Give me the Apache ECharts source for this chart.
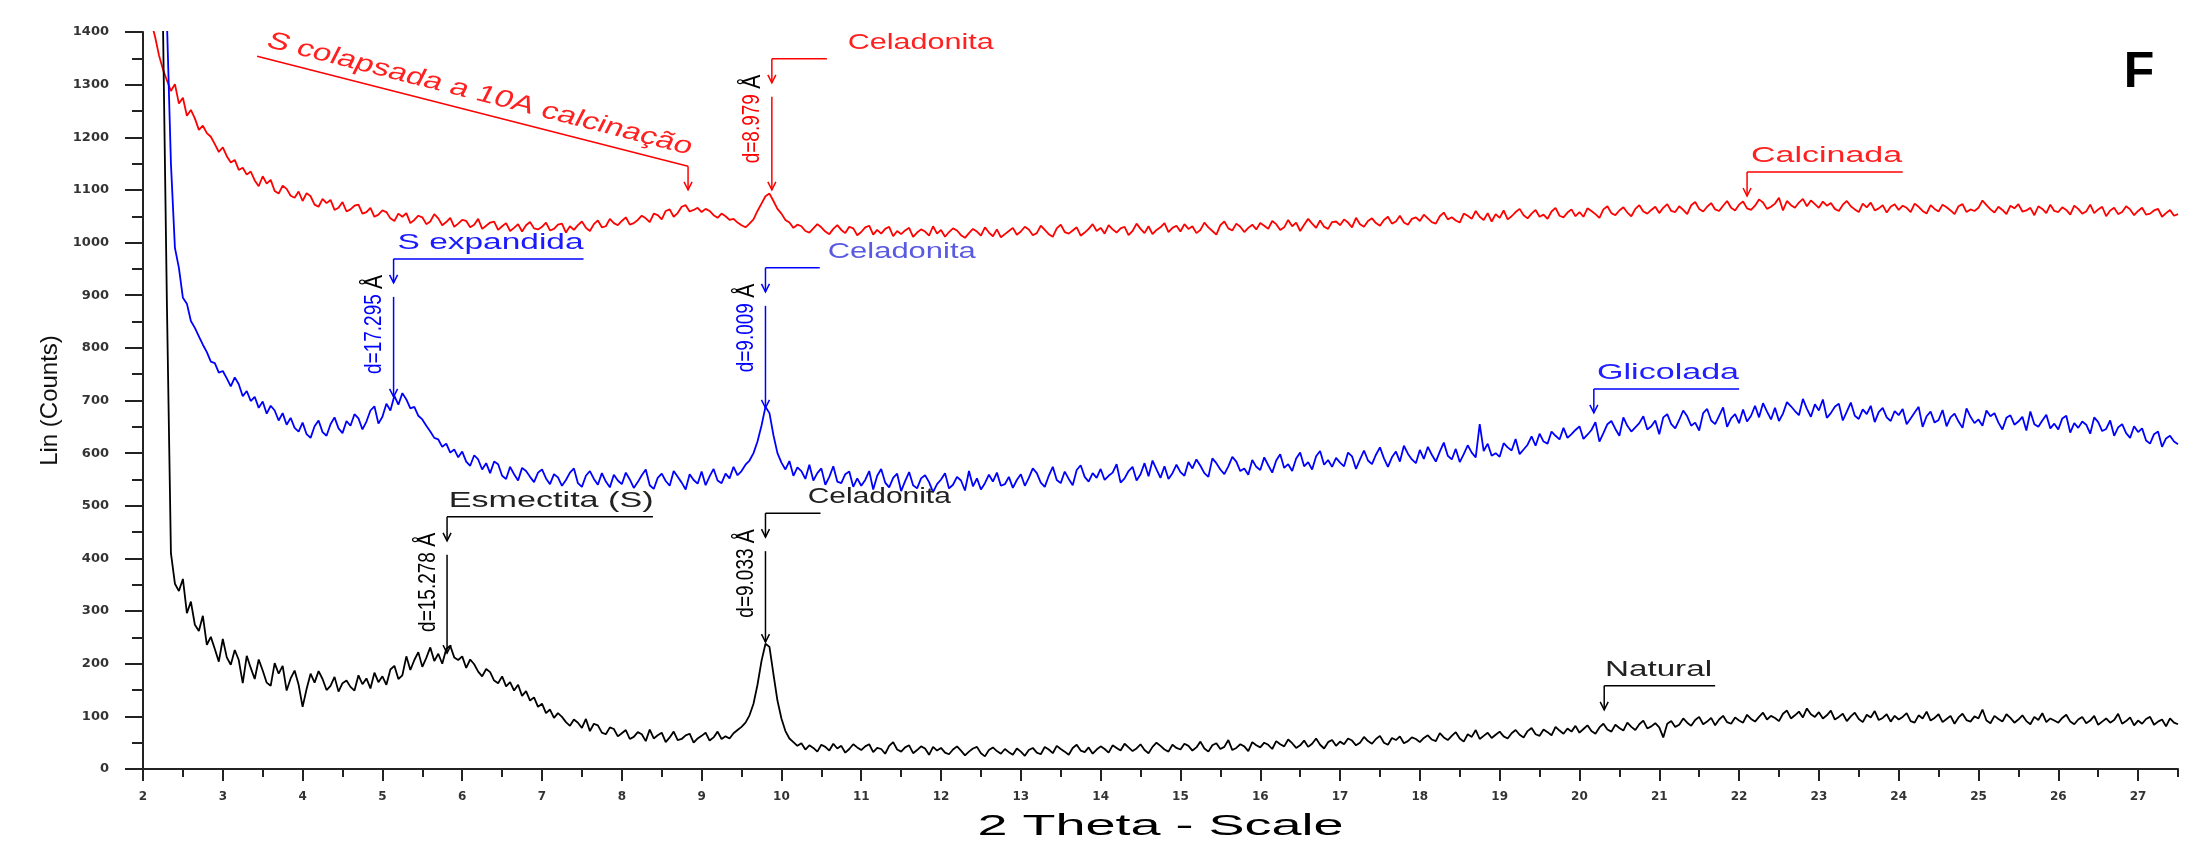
<!DOCTYPE html>
<html>
<head>
<meta charset="utf-8">
<script src="https://cdn.jsdelivr.net/npm/echarts@6/dist/echarts.min.js"></script>
<style>
html, body { margin: 0; padding: 0; background: #fff; }
#main { width: 2206px; height: 844px; }
</style>
</head>
<body>
<div id="main"></div>
<script>
// scan grid: first 2-theta angle and step (degrees)
var thetaStart = 2.0;
var thetaStep = 0.05;

// one row per degree (20 points)
var natural = [
    5000, 4200, 3200, 2400, 1850, 1420, 880, 410, 352, 338, 361, 296, 318, 274, 262, 291, 236, 251, 228, 204,
    247, 212, 198, 226, 207, 163, 215, 192, 171, 208, 187, 164, 158, 201, 181, 196, 149, 172, 187, 160,
    118, 152, 181, 164, 186, 171, 150, 158, 175, 147, 163, 168, 156, 149, 178, 161, 172, 153, 183, 165,
    176, 160, 189, 196, 171, 178, 214, 188, 207, 222, 194, 211, 231, 205, 219, 200, 228, 234, 212, 207,
    214, 192, 208, 199, 185, 176, 190, 184, 168, 163, 176, 157, 165, 149, 160, 139, 148, 130, 136, 118,
    124, 106, 113, 97, 106, 99, 89, 82, 94, 88, 78, 95, 72, 86, 83, 69, 66, 79, 76, 62,
    68, 74, 57, 61, 70, 66, 53, 75, 58, 64, 69, 51, 60, 71, 55, 57, 64, 67, 50, 58,
    63, 69, 54, 60, 71, 57, 62, 58, 68, 74, 80, 88, 102, 124, 160, 205, 238, 232, 180, 130,
    96, 72, 58, 51, 44, 49, 37, 45, 40, 33, 46, 42, 35, 48, 39, 44, 31, 38, 47, 41,
    36, 43, 47, 32, 40, 38, 29, 44, 51, 37, 33, 41, 45, 30, 36, 43, 39, 27, 42, 35,
    40, 31, 28, 37, 43, 35, 26, 33, 39, 42, 30, 24, 36, 41, 34, 29, 38, 32, 27, 39,
    33, 25, 36, 40, 31, 28, 42, 37, 30, 44, 38, 33, 27, 40, 46, 35, 32, 41, 29, 37,
    43, 38, 31, 45, 40, 35, 48, 41, 34, 39, 47, 36, 30, 42, 50, 44, 37, 33, 46, 40,
    37, 48, 44, 35, 41, 52, 39, 33, 45, 49, 38, 42, 55, 36, 40, 47, 43, 34, 51, 45,
    41, 50, 46, 38, 53, 47, 43, 56, 49, 40, 45, 54, 42, 48, 58, 46, 39, 51, 55, 44,
    52, 47, 58, 54, 45, 50, 61, 53, 48, 57, 63, 50, 46, 59, 55, 62, 49, 53, 60, 57,
    51, 59, 64, 56, 53, 68, 60, 55, 63, 70, 58, 52, 66, 61, 74, 57, 63, 69, 59, 65,
    71, 62, 58, 68, 74, 65, 60, 72, 78, 66, 63, 75, 70, 64, 80, 73, 67, 77, 71, 82,
    69, 76, 83, 72, 67, 79, 86, 75, 71, 84, 78, 73, 88, 80, 74, 85, 92, 77, 81, 87,
    79, 60, 86, 91, 80, 84, 96, 88, 82, 93, 99, 85, 90, 97, 83, 94, 101, 89, 86, 98,
    92, 88, 103, 95, 90, 99, 107, 94, 101, 97, 91, 105, 111, 96, 102, 109, 98, 115, 104, 99,
    108, 96, 102, 111, 94, 99, 105, 91, 100, 107, 95, 89, 103, 98, 110, 93, 97, 104, 90, 101,
    94, 99, 106, 91, 88, 102, 96, 109, 92, 97, 104, 89, 95, 101, 86, 98, 105, 93, 90, 100,
    96, 113, 92, 87, 101, 95, 90, 104, 97, 88, 94, 102, 91, 85, 99, 93, 106, 89, 96, 92,
    88, 97, 103, 90, 85, 94, 99, 87, 92, 101, 84, 90, 96, 88, 93, 105, 86, 91, 98, 83,
    92, 86, 95, 99, 84, 90, 94, 81, 96, 88, 85
];

var glicolada = [
    6000, 5000, 4000, 3000, 2400, 1850, 1420, 1150, 990, 952, 895, 884, 851, 838, 822, 806, 792, 774, 771, 753,
    756, 742, 727, 744, 731, 708, 718, 699, 707, 686, 698, 675, 690, 681, 662, 676, 654, 667, 648, 641,
    658, 636, 629, 651, 662, 640, 633, 655, 668, 647, 638, 661, 652, 674, 666, 645, 660, 681, 689, 656,
    669, 694, 681, 709, 692, 714, 702, 685, 688, 671, 664, 652, 641, 629, 626, 612, 618, 601, 607, 592,
    603, 584, 576, 596, 588, 569, 581, 562, 584, 579, 557, 551, 574, 560, 548, 572, 566, 555, 545, 563,
    569, 552, 541, 560, 554, 538, 549, 563, 571, 543, 536, 557, 566, 551, 540, 562, 546, 535, 559, 548,
    541, 563, 550, 534, 545, 558, 569, 539, 532, 553, 561, 547, 538, 566, 555, 544, 531, 560, 549, 542,
    565, 539, 556, 570, 548, 543, 561, 552, 574, 558, 566, 578, 586, 600, 622, 652, 688, 676, 634, 600,
    582, 569, 585, 557, 573, 566, 551, 578, 548, 562, 571, 540, 555, 575, 546, 543, 560, 565, 536, 552,
    538, 549, 566, 531, 557, 570, 544, 535, 553, 561, 528, 547, 564, 539, 533, 552, 558, 545, 526, 541,
    550, 562, 533, 540, 555, 548, 529, 566, 537, 552, 531, 543, 559, 546, 563, 538, 541, 555, 534, 549,
    560, 538, 553, 571, 562, 544, 536, 557, 574, 549, 543, 565, 551, 539, 568, 577, 555, 546, 562, 553,
    570, 549, 557, 563, 579, 544, 552, 566, 574, 548, 560, 581, 556, 586, 569, 553, 575, 551, 562, 578,
    564, 557, 583, 571, 588, 576, 562, 555, 590, 581, 569, 560, 575, 593, 584, 566, 571, 559, 587, 574,
    568, 592, 577, 563, 586, 598, 572, 579, 566, 590, 601, 575, 583, 569, 594, 604, 578, 587, 574, 591,
    582, 575, 601, 594, 570, 588, 605, 586, 579, 597, 611, 590, 574, 592, 603, 584, 614, 599, 588, 581,
    606, 589, 612, 597, 584, 603, 620, 595, 588, 608, 583, 598, 615, 601, 592, 655, 604, 618, 595, 600,
    593, 619, 611, 605, 627, 598, 607, 616, 632, 614, 637, 622, 618, 641, 633, 626, 648, 629, 636, 644,
    651, 627, 635, 644, 659, 622, 638, 655, 661, 646, 633, 668, 652, 641, 649, 657, 670, 645, 651, 662,
    636, 668, 674, 655, 647, 663, 681, 670, 652, 658, 643, 676, 684, 662, 655, 671, 687, 650, 666, 674,
    657, 683, 660, 671, 690, 668, 695, 679, 664, 686, 661, 675, 697, 689, 680, 672, 703, 684, 669, 693,
    681, 702, 667, 676, 688, 694, 662, 679, 696, 671, 665, 683, 674, 690, 659, 678, 686, 668, 661, 680,
    672, 684, 655, 666, 677, 688, 650, 670, 679, 658, 663, 682, 651, 668, 675, 660, 648, 685, 669, 657,
    664, 652, 681, 670, 676, 658, 645, 667, 672, 654, 660, 669, 643, 679, 655, 650, 662, 673, 647, 656,
    645, 666, 671, 639, 657, 648, 660, 654, 637, 668, 659, 642, 646, 662, 633, 649, 655, 638, 629, 651,
    640, 647, 624, 618, 636, 641, 612, 628, 633, 622, 617
];

var calcinada = [
    1560, 1480, 1420, 1392, 1356, 1329, 1308, 1288, 1301, 1264, 1275, 1241, 1252, 1236, 1214, 1222, 1208, 1201, 1187, 1172,
    1181, 1164, 1152, 1157, 1138, 1142, 1129, 1135, 1118, 1107, 1126, 1112, 1119, 1098, 1093, 1108, 1102, 1089, 1085, 1097,
    1079, 1094, 1088, 1072, 1068, 1083, 1075, 1081, 1062, 1066, 1077, 1059, 1063, 1070, 1072, 1055, 1058, 1066, 1049, 1053,
    1061, 1058, 1046, 1041, 1055, 1049, 1056, 1037, 1043, 1051, 1048, 1035, 1040, 1054, 1046, 1033, 1039, 1047, 1030, 1036,
    1043, 1041, 1029, 1034, 1045, 1026, 1032, 1038, 1040, 1024, 1031, 1037, 1022, 1028, 1035, 1021, 1033, 1039, 1027, 1025,
    1030, 1038, 1023, 1026, 1034, 1036, 1019, 1031, 1024, 1033, 1040, 1028, 1022, 1035, 1042, 1029, 1031, 1045, 1037, 1033,
    1041, 1048, 1034, 1037, 1043, 1051, 1046, 1039, 1055, 1052, 1044, 1060, 1063, 1049, 1056, 1068, 1071, 1059, 1062, 1066,
    1058, 1064, 1060, 1052, 1047, 1055, 1050, 1043, 1045, 1038, 1033, 1029, 1036, 1044, 1060, 1074, 1088, 1093, 1079, 1064,
    1055, 1043, 1038, 1028, 1034, 1031, 1022, 1019, 1027, 1035, 1029, 1021, 1016, 1026, 1033, 1024, 1018, 1030, 1027, 1014,
    1020, 1029, 1032, 1015, 1024, 1017, 1026, 1030, 1012, 1022, 1016, 1023, 1028, 1011, 1019, 1025, 1021, 1013, 1031, 1017,
    1024, 1011, 1020, 1027, 1023, 1014, 1009, 1018, 1026, 1021, 1013, 1029, 1019, 1012, 1025, 1010, 1016, 1022, 1028, 1015,
    1021, 1030, 1025, 1014, 1018, 1032, 1024, 1016, 1011, 1027, 1034, 1020, 1017, 1023, 1029, 1013, 1019, 1026, 1035, 1022,
    1028, 1017, 1033, 1025, 1019, 1027, 1030, 1014, 1022, 1036, 1026, 1018, 1031, 1016, 1024, 1029, 1037, 1020, 1028, 1032,
    1021, 1035, 1026, 1031, 1018, 1024, 1038, 1029, 1022, 1015, 1033, 1040, 1027, 1023, 1036, 1030, 1020, 1028, 1034, 1025,
    1037, 1032, 1026, 1041, 1035, 1024, 1029, 1043, 1031, 1038, 1022, 1034, 1045, 1036, 1028, 1042, 1030, 1026, 1039, 1040,
    1033, 1044, 1038, 1029, 1047, 1035, 1030, 1041, 1046, 1037, 1032, 1043, 1049, 1036, 1040, 1051, 1038, 1034, 1045, 1048,
    1041, 1053, 1046, 1039, 1036, 1050, 1057, 1044, 1048, 1042, 1038, 1055, 1051, 1045, 1060, 1049, 1043, 1056, 1040, 1054,
    1047, 1061, 1044, 1050, 1058, 1064, 1052, 1046, 1055, 1062, 1049, 1053, 1045, 1059, 1066, 1051, 1048, 1057, 1063, 1050,
    1058, 1049, 1065, 1060, 1054, 1047, 1063, 1069, 1056, 1052, 1061, 1067, 1057, 1050, 1064, 1071, 1059, 1055, 1062, 1068,
    1056, 1066, 1073, 1060, 1058, 1069, 1062, 1054, 1071, 1077, 1064, 1059, 1068, 1075, 1063, 1060, 1070, 1079, 1066, 1061,
    1072, 1078, 1065, 1062, 1070, 1082, 1076, 1064, 1068, 1074, 1085, 1061, 1079, 1071, 1066, 1076, 1083, 1069, 1080, 1073,
    1066, 1078, 1070, 1075, 1064, 1060, 1072, 1079, 1069, 1063, 1058, 1074, 1067, 1076, 1061, 1065, 1071, 1057, 1068, 1073,
    1062, 1070, 1066, 1058, 1074, 1068, 1060, 1055, 1071, 1064, 1059, 1072, 1067, 1061, 1054, 1069, 1073, 1058, 1063, 1060,
    1066, 1080, 1071, 1063, 1057, 1068, 1062, 1054, 1070, 1065, 1073, 1059, 1061, 1066, 1052, 1069, 1064, 1056, 1072, 1060,
    1058, 1067, 1062, 1053, 1070, 1064, 1055, 1059, 1072, 1056, 1063, 1068, 1050, 1061, 1066, 1054, 1058, 1069, 1063, 1052,
    1060, 1066, 1053, 1055, 1061, 1064, 1049, 1056, 1062, 1051, 1054
];

// peak annotations: arrow x (2theta), bracket level, bracket end, label start, arrow tip (counts)
var notes = [
    {x: 9.88, bar: 1349, xEnd: 10.57, textX: 10.83, text: 'Celadonita', w: 146, tip: 1100, d: 'd=8.979', color: '#ff0000', textColor: '#ff2020'},
    {x: 22.10, bar: 1134, xEnd: 24.05, textX: 22.15, text: 'Calcinada', w: 151, color: '#ff0000', textColor: '#ff2020'},
    {x: 5.14, bar: 969, xEnd: 7.52, textX: 5.19, text: 'S expandida', w: 186, tip: 707, d: 'd=17.295', color: '#0000ff', textColor: '#1a1aff'},
    {x: 9.80, bar: 952, xEnd: 10.48, textX: 10.58, text: 'Celadonita', w: 148, tip: 686, d: 'd=9.009', color: '#0000ff', textColor: '#5a5ae0'},
    {x: 20.18, bar: 722, xEnd: 22.0, textX: 20.22, text: 'Glicolada', w: 142, color: '#0000ff', textColor: '#2020ff'},
    {x: 5.81, bar: 479, xEnd: 8.39, textX: 5.83, text: 'Esmectita (S)', w: 205, tip: 220, d: 'd=15.278', color: '#000000', textColor: '#222222'},
    {x: 9.80, bar: 486, xEnd: 10.49, textX: 10.33, text: 'Celadonita', w: 143, tip: 241, d: 'd=9.033', color: '#000000', textColor: '#222222'},
    {x: 20.31, bar: 158, xEnd: 21.70, textX: 20.32, text: 'Natural', w: 107, color: '#000000', textColor: '#222222'}
];
// slanted note on the calcined scan: line start, line end, arrow tip
var collapseNote = {x0: 3.43, y0: 1354, x1: 8.83, y1: 1145, tip: 1100, text: 'S colapsada a 10A calcinação'};

function toPairs(vals) {
    return vals.map(function (v, i) {
        return [+(thetaStart + i * thetaStep).toFixed(2), v];
    });
}

var fontName = '"Liberation Sans", Arial, sans-serif';
var axisColor = '#222';

var myChart = echarts.init(document.getElementById('main'));

var option = {
    animation: false,
    backgroundColor: '#fff',
    grid: {left: 143, right: 28, top: 32, bottom: 75},
    xAxis: [{
        type: 'value',
        min: 2,
        max: 27.5,
        interval: 1,
        axisLine: {lineStyle: {color: axisColor, width: 2}},
        axisTick: {length: 12, lineStyle: {color: axisColor, width: 2}},
        axisLabel: {
            margin: 22, fontSize: 12, fontWeight: 'bold', color: '#333',
            fontFamily: '"DejaVu Sans", sans-serif', showMaxLabel: false
        },
        splitLine: {show: false}
    }, {
        // half-degree ticks
        type: 'value',
        position: 'bottom',
        min: 2,
        max: 27.5,
        interval: 0.5,
        axisLine: {show: false},
        axisTick: {length: 8, lineStyle: {color: axisColor, width: 2}},
        axisLabel: {show: false},
        splitLine: {show: false}
    }],
    yAxis: {
        type: 'value',
        min: 0,
        max: 1400,
        interval: 100,
        name: 'Lin (Counts)',
        nameLocation: 'middle',
        nameGap: 71,
        nameTextStyle: {fontSize: 24, color: '#111', fontFamily: fontName},
        axisLine: {show: true, lineStyle: {color: axisColor, width: 2}},
        axisTick: {show: true, length: 18, lineStyle: {color: axisColor, width: 2}},
        minorTick: {show: true, splitNumber: 2, length: 11, lineStyle: {color: axisColor, width: 2}},
        axisLabel: {
            margin: 34, fontSize: 13, fontWeight: 'bold', color: '#333',
            fontFamily: '"DejaVu Sans", sans-serif',
            formatter: function (v) { return String(v); }
        },
        splitLine: {show: false}
    },
    series: [{
        name: 'Calcinada',
        type: 'line',
        data: toPairs(calcinada),
        showSymbol: false,
        clip: true,
        lineStyle: {color: '#ff0000', width: 1.8},
        itemStyle: {color: '#ff0000'}
    }, {
        name: 'Glicolada',
        type: 'line',
        data: toPairs(glicolada),
        showSymbol: false,
        clip: true,
        lineStyle: {color: '#0000ff', width: 1.8},
        itemStyle: {color: '#0000ff'}
    }, {
        name: 'Natural',
        type: 'line',
        data: toPairs(natural),
        showSymbol: false,
        clip: true,
        lineStyle: {color: '#000000', width: 1.8},
        itemStyle: {color: '#000000'}
    }]
};
myChart.setOption(option);

// ---- annotations, placed through the axis scales ----
var measureCtx = document.createElement('canvas').getContext('2d');
function textWidth(str, size) {
    measureCtx.font = size + 'px ' + fontName;
    return measureCtx.measureText(str).width;
}
function px(x, y) {
    return myChart.convertToPixel({gridIndex: 0}, [x, y]);
}
function seg(x1, y1, x2, y2, color) {
    return {
        type: 'line', silent: true, z: 50,
        shape: {x1: x1, y1: y1, x2: x2, y2: y2},
        style: {stroke: color, lineWidth: 1.5}
    };
}
function head(x, y, color) {
    return {
        type: 'polyline', silent: true, z: 50,
        shape: {points: [[x - 4, y - 8], [x, y], [x + 4, y - 8]]},
        style: {stroke: color, lineWidth: 1.5, fill: null}
    };
}

var graphics = [];
notes.forEach(function (n) {
    var a = px(n.x, n.bar);
    var e = px(n.xEnd, n.bar);
    var t = px(n.textX, n.bar);
    var shortTip = a[1] + 24;
    graphics.push(seg(e[0], a[1], a[0], a[1], n.color));
    graphics.push(seg(a[0], a[1], a[0], shortTip, n.color));
    graphics.push(head(a[0], shortTip, n.color));
    graphics.push({
        type: 'text', silent: true, z: 50,
        x: t[0], y: a[1] - 16,
        scaleX: n.w / textWidth(n.text, 22),
        style: {
            text: n.text, fontSize: 22, fontFamily: fontName, fill: n.textColor,
            align: 'left', verticalAlign: 'middle'
        }
    });
    if (n.d) {
        var tip = px(n.x, n.tip)[1];
        graphics.push(seg(a[0], shortTip + 14, a[0], tip, n.color));
        graphics.push(head(a[0], tip, n.color));
        graphics.push({
            type: 'text', silent: true, z: 50,
            x: a[0] - 19, y: shortTip - 8,
            rotation: Math.PI / 2,
            scaleY: 1.25,
            style: {
                text: '{v|' + n.d + ' }{u|Å}',
                align: 'right', verticalAlign: 'middle',
                rich: {
                    v: {fontSize: 19, fontFamily: fontName, fill: n.color},
                    u: {fontSize: 21, fontFamily: fontName, fill: '#000'}
                }
            }
        });
    }
});

// slanted note
var c0 = px(collapseNote.x0, collapseNote.y0);
var c1 = px(collapseNote.x1, collapseNote.y1);
var cTip = px(collapseNote.x1, collapseNote.tip);
graphics.push(seg(c0[0], c0[1], c1[0], c1[1], '#ff0000'));
graphics.push(seg(c1[0], c1[1], c1[0], cTip[1], '#ff0000'));
graphics.push(head(c1[0], cTip[1], '#ff0000'));
var stretch = 1.4;
var localAngle = Math.atan(stretch * (c1[1] - c0[1]) / (c1[0] - c0[0]));
graphics.push({
    type: 'group', silent: true, z: 50,
    x: c0[0] + 5, y: c0[1] - 5,
    scaleX: stretch,
    children: [{
        type: 'text',
        rotation: -localAngle,
        style: {
            text: collapseNote.text, fontSize: 24, fontFamily: fontName, fill: '#ff2020',
            align: 'left', verticalAlign: 'bottom'
        }
    }]
});

// x axis title, centred under the axis and stretched like the original
var axisMid = px(14.75, 0);
var xTitle = '2 Theta - Scale';
graphics.push({
    type: 'text', silent: true, z: 50,
    x: axisMid[0], y: 827,
    scaleX: 366 / textWidth(xTitle, 29),
    style: {
        text: xTitle, fontSize: 29, fontFamily: fontName, fill: '#000',
        align: 'center', verticalAlign: 'middle'
    }
});

// panel letter
graphics.push({
    type: 'text', silent: true, z: 50,
    x: 2139, y: 73,
    style: {
        text: 'F', fontSize: 50, fontWeight: 'bold', fontFamily: fontName, fill: '#000',
        align: 'center', verticalAlign: 'middle'
    }
});

myChart.setOption({graphic: graphics});
</script>
</body>
</html>
